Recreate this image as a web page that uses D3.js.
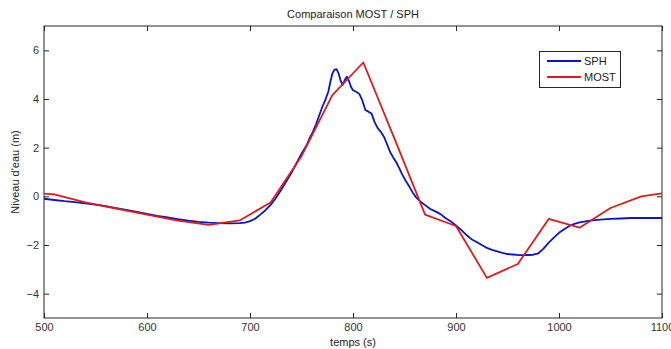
<!DOCTYPE html>
<html><head><meta charset="utf-8">
<script src="https://cdn.jsdelivr.net/npm/d3@7"></script>
<style>body{margin:0;background:#fff;} svg{display:block;font-family:"Liberation Sans",Arial,sans-serif;}</style>
</head><body>
<svg id="c" width="671" height="349"></svg>
<script>
const sphTime = [500,510,520,530,540,550,560,570,580,590,600,610,620,630,640,650,660,670,680,690,695,700,705,710,715,720,725,730,735,740,745,750,755,758,761,764,767,770,773,776,778,780,782,784,786,788,790,792,794,796,798,800,803,806,809,812,815,818,821,824,827,830,833,836,839,842,845,848,851,855,858,861,865,870,875,880,885,890,895,900,905,910,915,920,925,930,935,940,945,950,955,960,965,970,975,980,985,990,995,1000,1005,1010,1015,1020,1030,1040,1050,1060,1070,1080,1090,1100];
const sphLevel = [-0.10,-0.15,-0.20,-0.24,-0.29,-0.34,-0.40,-0.48,-0.56,-0.64,-0.72,-0.80,-0.87,-0.94,-1.00,-1.05,-1.08,-1.10,-1.11,-1.10,-1.08,-1.02,-0.92,-0.75,-0.57,-0.35,-0.08,0.25,0.60,0.95,1.35,1.75,2.10,2.40,2.65,2.95,3.30,3.65,3.95,4.30,4.70,5.05,5.20,5.23,5.05,4.75,4.58,4.78,4.92,4.75,4.50,4.36,4.30,4.22,3.95,3.55,3.48,3.40,3.05,2.80,2.65,2.45,2.15,1.82,1.60,1.40,1.15,0.88,0.65,0.38,0.15,-0.03,-0.20,-0.36,-0.52,-0.62,-0.73,-0.90,-1.03,-1.20,-1.38,-1.58,-1.76,-1.88,-2.00,-2.12,-2.20,-2.26,-2.32,-2.37,-2.39,-2.41,-2.42,-2.41,-2.40,-2.34,-2.15,-1.90,-1.70,-1.50,-1.35,-1.22,-1.13,-1.07,-1.00,-0.96,-0.93,-0.91,-0.89,-0.89,-0.89,-0.89];
const mostTime = [500,510,540,570,600,630,660,690,720,750,780,810,840,870,900,930,960,990,1020,1050,1080,1100];
const mostLevel = [0.11,0.08,-0.25,-0.50,-0.75,-1.00,-1.17,-0.99,-0.25,1.65,4.16,5.50,2.40,-0.75,-1.22,-3.35,-2.78,-0.93,-1.29,-0.48,0.00,0.12];
const xTicks = [500,600,700,800,900,1000,1100];
const yTicks = [-4,-2,0,2,4,6];
const seriesNames = ["SPH","MOST"];
const seriesColors = ["#0a14c8","#dc1c1c"];

const svg = d3.select("#c");
const L=44, R=662, T=26, B=318;
const x = d3.scaleLinear().domain([500,1100]).range([L,R]);
const y = d3.scaleLinear().domain([-5,7]).range([B,T]);
const tickLen=5;
const axisColor="#262626";

svg.append("rect").attr("x",L).attr("y",T).attr("width",R-L).attr("height",B-T)
  .attr("fill","#fff").attr("stroke",axisColor).attr("stroke-width",1);

const fontSize=11;
const gx = svg.append("g").attr("transform",`translate(0,${B})`)
  .call(d3.axisBottom(x).tickValues(xTicks).tickSize(-tickLen).tickPadding(5).tickFormat(d3.format("d")));
const gxTop = svg.append("g").attr("transform",`translate(0,${T})`)
  .call(d3.axisTop(x).tickValues(xTicks).tickSize(-tickLen).tickFormat(""));
const gy = svg.append("g").attr("transform",`translate(${L},0)`)
  .call(d3.axisLeft(y).tickValues(yTicks).tickSize(-tickLen).tickPadding(5));
const gyR = svg.append("g").attr("transform",`translate(${R},0)`)
  .call(d3.axisRight(y).tickValues(yTicks).tickSize(-tickLen).tickFormat(""));
[gx,gxTop,gy,gyR].forEach(g=>{
  g.select(".domain").remove();
  g.selectAll("line").attr("stroke",axisColor);
  g.selectAll("text").attr("fill","#333").style("font-size",fontSize+"px").style("font-family","'Liberation Sans',Arial,sans-serif");
});

svg.append("clipPath").attr("id","clip").append("rect").attr("x",L).attr("y",T).attr("width",R-L).attr("height",B-T);
const line = d3.line().x(d=>x(d[0])).y(d=>y(d[1]));
const sph = sphTime.map((t,i)=>[t,sphLevel[i]]);
const most = mostTime.map((t,i)=>[t,mostLevel[i]]);
const plot = svg.append("g").attr("clip-path","url(#clip)");
plot.append("path").datum(sph).attr("d",line).attr("fill","none").attr("stroke",seriesColors[0]).attr("stroke-width",1.8).attr("stroke-linejoin","round");
plot.append("path").datum(most).attr("d",line).attr("fill","none").attr("stroke",seriesColors[1]).attr("stroke-width",1.8).attr("stroke-linejoin","round");

svg.append("text").attr("x",(L+R)/2).attr("y",18).attr("text-anchor","middle")
  .style("font-size","11px").attr("fill","#222").text("Comparaison MOST / SPH");
svg.append("text").attr("x",(L+R)/2).attr("y",346).attr("text-anchor","middle")
  .style("font-size","11px").attr("fill","#222").text("temps (s)");
svg.append("text").attr("transform",`translate(19,${(T+B)/2}) rotate(-90)`).attr("text-anchor","middle")
  .style("font-size","11px").attr("fill","#222").text("Niveau d'eau (m)");

const lg = svg.append("g");
lg.append("rect").attr("x",539.5).attr("y",51.5).attr("width",81).attr("height",36)
  .attr("fill","#fff").attr("stroke",axisColor).attr("stroke-width",1);
seriesNames.forEach((n,i)=>{
  const yy = 61 + i*16;
  lg.append("line").attr("x1",547).attr("x2",581).attr("y1",yy).attr("y2",yy)
    .attr("stroke",seriesColors[i]).attr("stroke-width",1.8);
  lg.append("text").attr("x",584).attr("y",yy+4).style("font-size","11px").attr("fill","#222").text(n);
});
</script>
</body></html>
